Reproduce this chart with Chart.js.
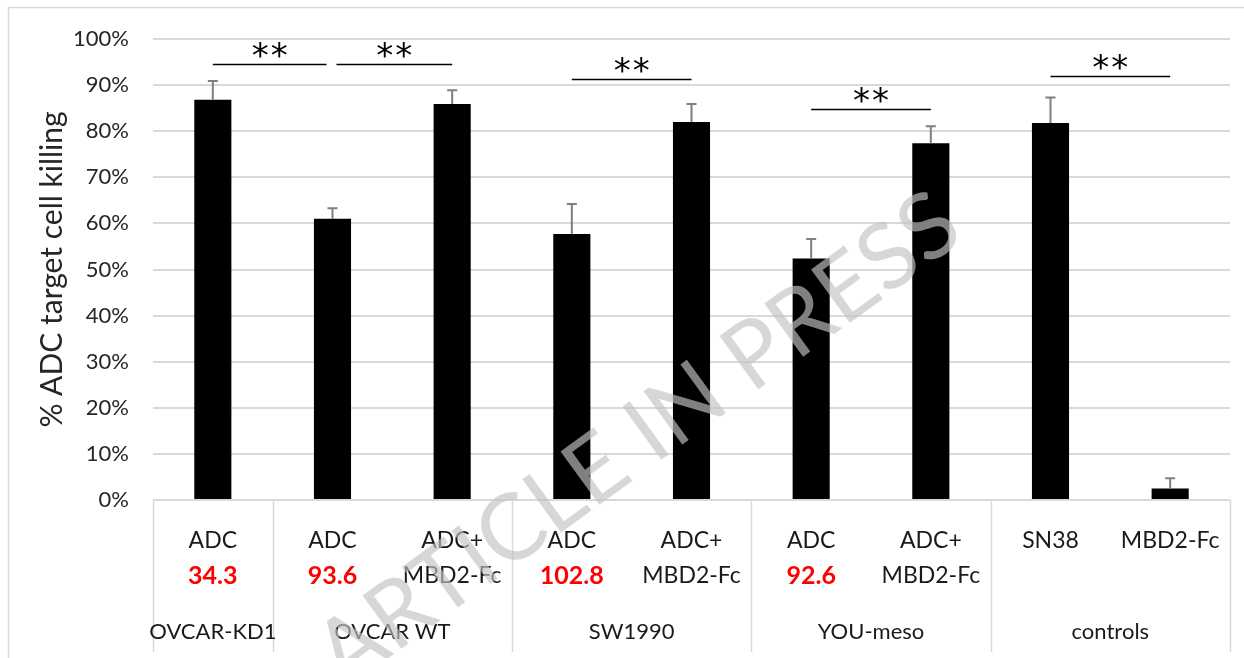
<!DOCTYPE html>
<html>
<head>
<meta charset="utf-8">
<script src="https://cdn.jsdelivr.net/npm/chart.js@4.4.1/dist/chart.umd.min.js"></script>
<style>
  html, body { margin: 0; padding: 0; background: #ffffff; }
  #wrap { width: 1244px; height: 658px; }
</style>
</head>
<body>
<div id="wrap"><canvas id="chart" width="1244" height="658"></canvas></div>
<script>
// Treatment label per bar (one or two lines)
const treatments = [
  ['ADC'], ['ADC'], ['ADC+', 'MBD2-Fc'],
  ['ADC'], ['ADC+', 'MBD2-Fc'],
  ['ADC'], ['ADC+', 'MBD2-Fc'],
  ['SN38'], ['MBD2-Fc']
];
// IC50 values printed under the ADC-only bars
const ic50Labels = ['34.3', '93.6', '', '102.8', '', '92.6', '', '', ''];
// Cell line groups and how many bars each one spans
const groupNames = ['OVCAR-KD1', 'OVCAR WT', 'SW1990', 'YOU-meso', 'controls'];
const groupSizes = [1, 2, 2, 2, 2];
// % ADC target cell killing and its error
const killing = [86.8, 61.0, 85.9, 57.7, 82.0, 52.4, 77.4, 81.8, 2.5];
const errors  = [4.1, 2.3, 3.0, 6.5, 3.9, 4.2, 3.7, 5.5, 2.2];
// Significance brackets: bar pairs, bracket level (% axis) and mark
const sigFrom  = [0, 1, 3, 5, 7];
const sigTo    = [1, 2, 4, 6, 8];
const sigLevel = [94.6, 94.6, 91.3, 84.8, 92.0];
const sigMarks = ['**', '**', '**', '**', '**'];
// Axis ticks
const yTickValues = [0, 10, 20, 30, 40, 50, 60, 70, 80, 90, 100];

const labelFont = "Lato, 'Open Sans', 'DejaVu Sans', sans-serif";
const gridColor = '#d9d9d9';

const errorBars = {
  id: 'errorBars',
  afterDatasetsDraw(chart) {
    const ctx = chart.ctx, y = chart.scales.y;
    const meta = chart.getDatasetMeta(0);
    ctx.save();
    ctx.strokeStyle = '#7f7f7f';
    ctx.lineWidth = 2;
    meta.data.forEach((bar, i) => {
      const top = y.getPixelForValue(killing[i] + errors[i]);
      ctx.beginPath();
      ctx.moveTo(bar.x, bar.y);
      ctx.lineTo(bar.x, top);
      ctx.moveTo(bar.x - 5, top);
      ctx.lineTo(bar.x + 5, top);
      ctx.stroke();
    });
    ctx.restore();
  }
};

const brackets = {
  id: 'brackets',
  afterDatasetsDraw(chart) {
    const ctx = chart.ctx, x = chart.scales.x, y = chart.scales.y;
    ctx.save();
    ctx.strokeStyle = '#000';
    ctx.fillStyle = '#000';
    ctx.lineWidth = 1.5;
    ctx.font = "34px 'DejaVu Sans', sans-serif";
    ctx.textAlign = 'center';
    ctx.textBaseline = 'middle';
    if ('letterSpacing' in ctx) ctx.letterSpacing = '2px';
    sigFrom.forEach((a, k) => {
      const b = sigTo[k];
      // leave a small gap where two brackets meet at the same bar
      const sharedStart = sigTo.some((t, j) => j !== k && t === a && sigLevel[j] === sigLevel[k]);
      const sharedEnd = sigFrom.some((f, j) => j !== k && f === b && sigLevel[j] === sigLevel[k]);
      const x0 = x.getPixelForValue(a) + (sharedStart ? 4 : 0);
      const x1 = x.getPixelForValue(b) - (sharedEnd ? 6 : 0);
      const yy = Math.round(y.getPixelForValue(sigLevel[k])) + 0.5;
      ctx.beginPath();
      ctx.moveTo(x0, yy);
      ctx.lineTo(x1, yy);
      ctx.stroke();
      ctx.fillText(sigMarks[k], (x0 + x1) / 2 + 1, yy - 6);
    });
    ctx.restore();
  }
};

const categoryTable = {
  id: 'categoryTable',
  afterDraw(chart) {
    const ctx = chart.ctx, x = chart.scales.x, area = chart.chartArea;
    const half = (x.getPixelForValue(1) - x.getPixelForValue(0)) / 2;
    const tableBottom = area.bottom + 152;
    ctx.save();
    ctx.strokeStyle = gridColor;
    ctx.lineWidth = 1.5;
    // group separators
    let idx = 0;
    const edges = [x.getPixelForValue(0) - half];
    groupSizes.forEach(n => { idx += n; edges.push(x.getPixelForValue(idx - 1) + half); });
    edges.forEach(ex => {
      ctx.beginPath();
      ctx.moveTo(Math.round(ex) + 0.5, area.bottom);
      ctx.lineTo(Math.round(ex) + 0.5, tableBottom);
      ctx.stroke();
    });
    ctx.textAlign = 'center';
    ctx.textBaseline = 'middle';
    // treatment labels
    treatments.forEach((lines, i) => {
      const cx = x.getPixelForValue(i);
      ctx.fillStyle = '#1a1a1a';
      ctx.font = '23px ' + labelFont;
      lines.forEach((t, l) => ctx.fillText(t, cx, area.bottom + 41 + l * 35));
      if (ic50Labels[i]) {
        ctx.fillStyle = '#ff0000';
        ctx.font = 'bold 25px ' + labelFont;
        ctx.fillText(ic50Labels[i], cx, area.bottom + 76);
      }
    });
    // group names
    ctx.fillStyle = '#1a1a1a';
    ctx.font = '22px ' + labelFont;
    groupNames.forEach((g, k) => {
      ctx.fillText(g, (edges[k] + edges[k + 1]) / 2, area.bottom + 132);
    });
    ctx.restore();
  }
};

const outerFrame = {
  id: 'outerFrame',
  beforeDraw(chart) {
    const ctx = chart.ctx;
    ctx.save();
    ctx.fillStyle = '#fff';
    ctx.fillRect(0, 0, chart.width, chart.height);
    ctx.strokeStyle = '#d9d9d9';
    ctx.lineWidth = 1.5;
    ctx.strokeRect(8.5, 7.5, chart.width + 20, chart.height + 20);
    ctx.restore();
  }
};

const watermark = {
  id: 'watermark',
  afterDraw(chart) {
    const ctx = chart.ctx;
    const text = 'ARTICLE IN PRESS';
    const family = "Lato, 'Open Sans', sans-serif";
    ctx.save();
    ctx.font = '400 92px ' + family;
    const w = ctx.measureText(text).width;
    ctx.translate(638, 440);
    ctx.rotate(-36 * Math.PI / 180);
    ctx.scale(770 / w, 1);
    ctx.fillStyle = 'rgba(195,195,195,0.66)';
    ctx.textAlign = 'center';
    ctx.textBaseline = 'middle';
    ctx.fillText(text, 0, 0);
    ctx.restore();
  }
};

new Chart(document.getElementById('chart'), {
  type: 'bar',
  data: {
    labels: treatments.map(t => t.join(' ')),
    datasets: [{
      data: killing,
      backgroundColor: '#000000',
      borderWidth: 0,
      categoryPercentage: 1.0,
      barPercentage: 0.31
    }]
  },
  options: {
    responsive: false,
    devicePixelRatio: 1,
    animation: false,
    layout: { padding: { left: 8, right: 14, top: 39, bottom: 0 } },
    plugins: { legend: { display: false }, tooltip: { enabled: false } },
    scales: {
      x: {
        grid: { display: false },
        border: { display: false },
        ticks: { display: false },
        afterFit(s) { s.height = 158; }
      },
      y: {
        min: 0,
        max: 100,
        afterBuildTicks(s) { s.ticks = yTickValues.map(v => ({ value: v })); },
        ticks: {
          padding: 24,
          color: '#262626',
          font: { family: labelFont, size: 22 },
          callback: v => v + '%'
        },
        grid: { color: gridColor, lineWidth: 2, drawTicks: false },
        border: { display: false },
        title: {
          display: true,
          text: '% ADC target cell killing',
          color: '#262626',
          font: { family: labelFont, size: 30 },
          padding: { top: 26, bottom: 0 }
        },
        afterFit(s) { s.width = 145; }
      }
    }
  },
  plugins: [outerFrame, errorBars, brackets, categoryTable, watermark]
});
</script>
</body>
</html>
